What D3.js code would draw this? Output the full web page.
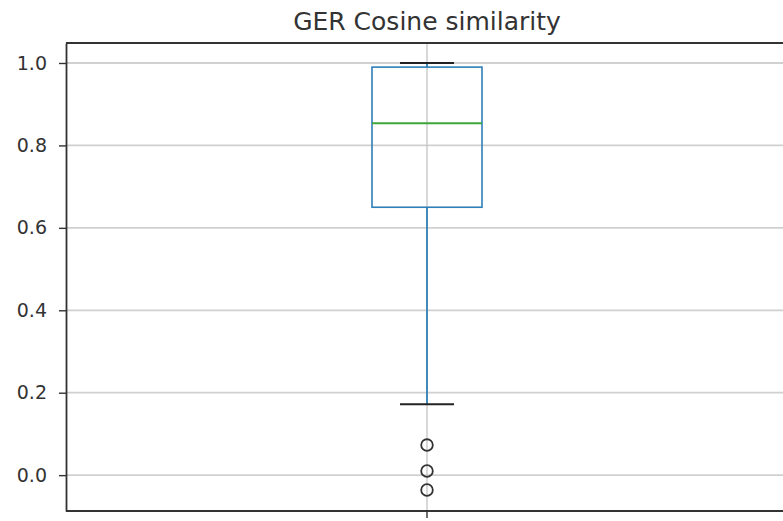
<!DOCTYPE html>
<html><head><meta charset="utf-8">
<script src="https://cdn.jsdelivr.net/npm/d3@7"></script>
<style>body{margin:0;background:#fff;} svg{display:block;}</style>
</head><body>
<svg id="c" width="783" height="521"></svg>
<script>
const title = "GER Cosine similarity";
const categories = ["GER"];
const q1 = [0.650];
const median = [0.854];
const q3 = [0.990];
const whiskerLow = [0.172];
const whiskerHigh = [1.0];
const outliers = [[0.073, 0.010, -0.036]];
const yTicks = [0.0, 0.2, 0.4, 0.6, 0.8, 1.0];

const svg = d3.select("#c");
const mLeft = 66, mRight = 788, mTop = 43, mBottom = 511;
const y = d3.scaleLinear().domain([-0.087, 1.0485]).range([mBottom, mTop]);
const x = d3.scaleBand().domain(categories).range([mLeft, mRight]).paddingInner(0).paddingOuter(0);
const cx = c => x(c) + x.bandwidth() / 2;
const boxW = 110, capW = 54;
const font = "DejaVu Sans, sans-serif";

// grid
svg.append("g").selectAll("line").data(yTicks).join("line")
  .attr("x1", mLeft).attr("x2", mRight)
  .attr("y1", d => y(d)).attr("y2", d => y(d))
  .attr("stroke", "#d0d0d0").attr("stroke-width", 1.8);
svg.append("g").selectAll("line").data(categories).join("line")
  .attr("x1", d => cx(d)).attr("x2", d => cx(d))
  .attr("y1", mTop).attr("y2", mBottom)
  .attr("stroke", "#c4c4c4").attr("stroke-width", 1.3);

const g = svg.append("g").selectAll("g").data(categories).join("g");
// whiskers
g.append("line").attr("x1", cx).attr("x2", cx)
  .attr("y1", (d,i) => y(q1[i])).attr("y2", (d,i) => y(whiskerLow[i]))
  .attr("stroke", "#1f77b4").attr("stroke-width", 1.6);
g.append("line").attr("x1", cx).attr("x2", cx)
  .attr("y1", (d,i) => y(q3[i])).attr("y2", (d,i) => y(whiskerHigh[i]))
  .attr("stroke", "#1f77b4").attr("stroke-width", 1.6);
// caps
[whiskerLow, whiskerHigh].forEach(arr => {
  g.append("line").attr("x1", d => cx(d) - capW/2).attr("x2", d => cx(d) + capW/2)
    .attr("y1", (d,i) => y(arr[i])).attr("y2", (d,i) => y(arr[i]))
    .attr("stroke", "#222").attr("stroke-width", 2);
});
// box
g.append("rect").attr("x", d => cx(d) - boxW/2).attr("width", boxW)
  .attr("y", (d,i) => y(q3[i])).attr("height", (d,i) => y(q1[i]) - y(q3[i]))
  .attr("fill", "none").attr("stroke", "#2f7fb8").attr("stroke-width", 1.6);
// median
g.append("line").attr("x1", d => cx(d) - boxW/2).attr("x2", d => cx(d) + boxW/2)
  .attr("y1", (d,i) => y(median[i])).attr("y2", (d,i) => y(median[i]))
  .attr("stroke", "#3ca53c").attr("stroke-width", 2);
// outliers
g.each(function(d, i) {
  d3.select(this).selectAll("circle").data(outliers[i]).join("circle")
    .attr("cx", cx(d)).attr("cy", v => y(v)).attr("r", 5.8)
    .attr("fill", "none").attr("stroke", "#333").attr("stroke-width", 1.8);
});

// frame
svg.append("line").attr("x1", mLeft).attr("x2", mRight).attr("y1", mTop).attr("y2", mTop).attr("stroke", "#333").attr("stroke-width", 1.8);
svg.append("line").attr("x1", mLeft).attr("x2", mRight).attr("y1", mBottom).attr("y2", mBottom).attr("stroke", "#333").attr("stroke-width", 1.8);

// y axis
const ya = svg.append("g").attr("transform", `translate(${mLeft},0)`)
  .call(d3.axisLeft(y).tickValues(yTicks).tickFormat(d3.format(".1f")).tickSize(7).tickSizeOuter(0).tickPadding(12));
ya.select(".domain").attr("stroke", "#333").attr("stroke-width", 1.8);
ya.selectAll(".tick line").attr("stroke", "#333").attr("stroke-width", 1.4);
ya.selectAll("text").attr("font-family", font).attr("font-size", 19).attr("fill", "#333");

// x axis
const xa = svg.append("g").attr("transform", `translate(0,${mBottom})`)
  .call(d3.axisBottom(x).tickSize(7).tickSizeOuter(0).tickFormat(""));
xa.select(".domain").remove();
xa.selectAll(".tick line").attr("stroke", "#333").attr("stroke-width", 1.4);

svg.append("text").attr("x", cx(categories[0])).attr("y", 30)
  .attr("text-anchor", "middle").attr("font-family", font).attr("font-size", 25).attr("fill", "#333")
  .text(title);
</script>
</body></html>
